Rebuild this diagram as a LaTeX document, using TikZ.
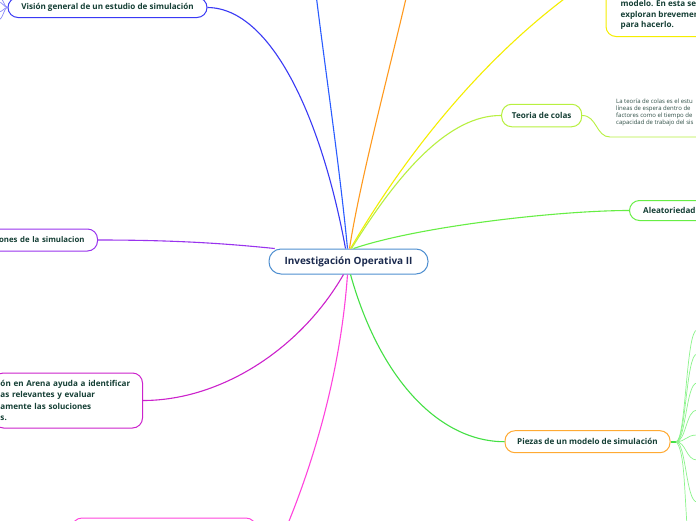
\documentclass[tikz,border=0pt]{standalone}
\usepackage{fontspec}
\setmainfont{Open Sans}
\definecolor{txtc}{HTML}{153F35}
\definecolor{navy}{HTML}{1B2A4E}
\definecolor{rootc}{HTML}{4F8FD0}
\definecolor{bluel}{HTML}{2A5CFF}
\definecolor{orangel}{HTML}{FF9A1F}
\definecolor{yellowl}{HTML}{F5EE00}
\definecolor{ygreen}{HTML}{B8F040}
\definecolor{lgreen}{HTML}{66EE44}
\definecolor{pgreen}{HTML}{44E044}
\definecolor{cgreen}{HTML}{8CF48C}
\definecolor{porange}{HTML}{FFAA33}
\definecolor{pinkl}{HTML}{FF44DD}
\definecolor{magl}{HTML}{CC22CC}
\definecolor{purpl}{HTML}{9933EE}
\definecolor{bviol}{HTML}{3A3AF5}
\definecolor{notec}{HTML}{2F4F46}
\tikzset{
  topic/.style={draw, rounded corners=10pt, line width=1pt, fill=white,
    font=\bfseries\fontsize{8.1}{9.5}\selectfont, text=txtc, inner sep=0pt, minimum height=22pt},
  conn/.style={line width=1.1pt},
  child/.style={line width=0.7pt, draw=cgreen}
}
\begin{document}
\begin{tikzpicture}[x=1pt,y=-1pt]
\useasboundingbox (0,0) rectangle (696,520);
\clip (0,0) rectangle (696,520);
\fill[white] (0,0) rectangle (696,520);

% coordinates for off-canvas ends
\coordinate (blueend) at (316,-6);
\coordinate (orangeend) at (407,-6);
\coordinate (yellowend) at (606,-30);
\coordinate (pinkend) at (287,526);
\coordinate (ul) at (610,137);
\coordinate (ulend) at (700,137);

% nodes
\node[topic, draw=rootc, minimum width=159pt, minimum height=25pt, rounded corners=12pt,
      font=\bfseries\fontsize{10}{12}\selectfont, text=navy] (root) at (348.5,261.5) {Investigación Operativa II};

\node[topic, draw=bviol, minimum width=199pt, minimum height=20pt] (vision) at (107.5,7.5) {Visión general de un estudio de simulación};

\node[topic, draw=ygreen, minimum width=80pt, minimum height=22.5pt] (teoria) at (541.7,115.5) {Teoria de colas};

\node[topic, draw=lgreen, anchor=west, text width=100pt, align=left, inner xsep=13.7pt, minimum height=20pt] (aleat) at (629,210.5) {Aleatoriedad};

\node[topic, draw=purpl, anchor=east, text width=110pt, align=right, inner xsep=13pt,
      font=\bfseries\fontsize{7.8}{9.5}\selectfont] (aplic) at (98,240) {ones de la simulacion};

\node[topic, draw=magl, anchor=east, text width=135pt, align=left, inner xsep=7pt, minimum height=55pt,
      font=\bfseries\fontsize{8.1}{11.5}\selectfont] (arena) at (143,400.5)
  {ón en Arena ayuda a identificar\\as relevantes y evaluar\\amente las soluciones\\s.};

\node[topic, draw=porange, minimum width=165pt, minimum height=22pt] (piezas) at (587.5,441.7) {Piezas de un modelo de simulación};

\node[topic, draw=pinkl, minimum width=184pt, minimum height=26pt] (pinkn) at (164,531) {};

\node[topic, draw=yellowl, anchor=south west, minimum width=150pt, minimum height=80pt] (ybox) at (605.5,37) {};
\node[anchor=west, align=left, inner sep=0pt, font=\bfseries\fontsize{8.1}{10.5}\selectfont, text=txtc] (ytxt) at (620.5,15)
  {modelo. En esta se\\exploran brevemen\\para hacerlo.};

\node[anchor=west, align=left, inner sep=0pt, font=\fontsize{6}{7}\selectfont, text=notec] (note) at (616,112.2)
  {La teoría de colas es el estu\\líneas de espera dentro de\\factores como el tiempo de\\capacidad de trabajo del sis};

% connectors from root
\draw[conn, bluel] ([xshift=-1pt]root.north) .. controls (340,170) and (324,60) .. (blueend);
\draw[conn, orangel] ([xshift=1pt]root.north) .. controls (360,180) and (392,60) .. (orangeend);
\draw[conn, yellowl] ([xshift=2pt]root.north) .. controls (420,130) and (510,30) .. (yellowend);
\draw[conn, ygreen] ([xshift=3pt]root.north) .. controls (400,170) and (450,115) .. (teoria.west);
\draw[conn, lgreen] ([xshift=5pt]root.north) .. controls (420,226) and (560,210.5) .. (aleat.west);
\draw[conn, bviol] ([xshift=-3pt]root.north) .. controls (322,120) and (272,8) .. (vision.east);
\draw[conn, purpl] (root.170) .. controls (230,244) and (180,240) .. (aplic.east);
\draw[conn, magl] ([xshift=-5pt]root.south) .. controls (300,350) and (220,400.5) .. (arena.east);
\draw[conn, pinkl] ([xshift=-1pt]root.south) .. controls (340,380) and (310,470) .. (pinkend);
\draw[conn, pgreen] ([xshift=2pt]root.south) .. controls (380,380) and (440,441.7) .. (piezas.west);
\draw[line width=0.9pt, ygreen] (teoria.east) .. controls (597,115.5) and (596,137) .. (ul) -- (ulend);

% children of Piezas
\coordinate (fan) at (676,441.7);
\draw[line width=1.6pt, pgreen] (piezas.east) -- (fan);
\foreach \yy in {330,354,383,410,435,460,502} {
  \draw[child] (fan) .. controls (686,441.7) and (686,\yy) .. (697,\yy);
}
\draw[child] (fan) .. controls (684,450) and (684,480) .. (687,526);

% children of Vision (left edge)
\foreach \yy in {-4,2,12,20} {
  \draw[line width=0.7pt, bviol!60] (vision.west) .. controls (4,7.5) and (3,\yy) .. (-2,\yy);
}
\end{tikzpicture}
\end{document}
